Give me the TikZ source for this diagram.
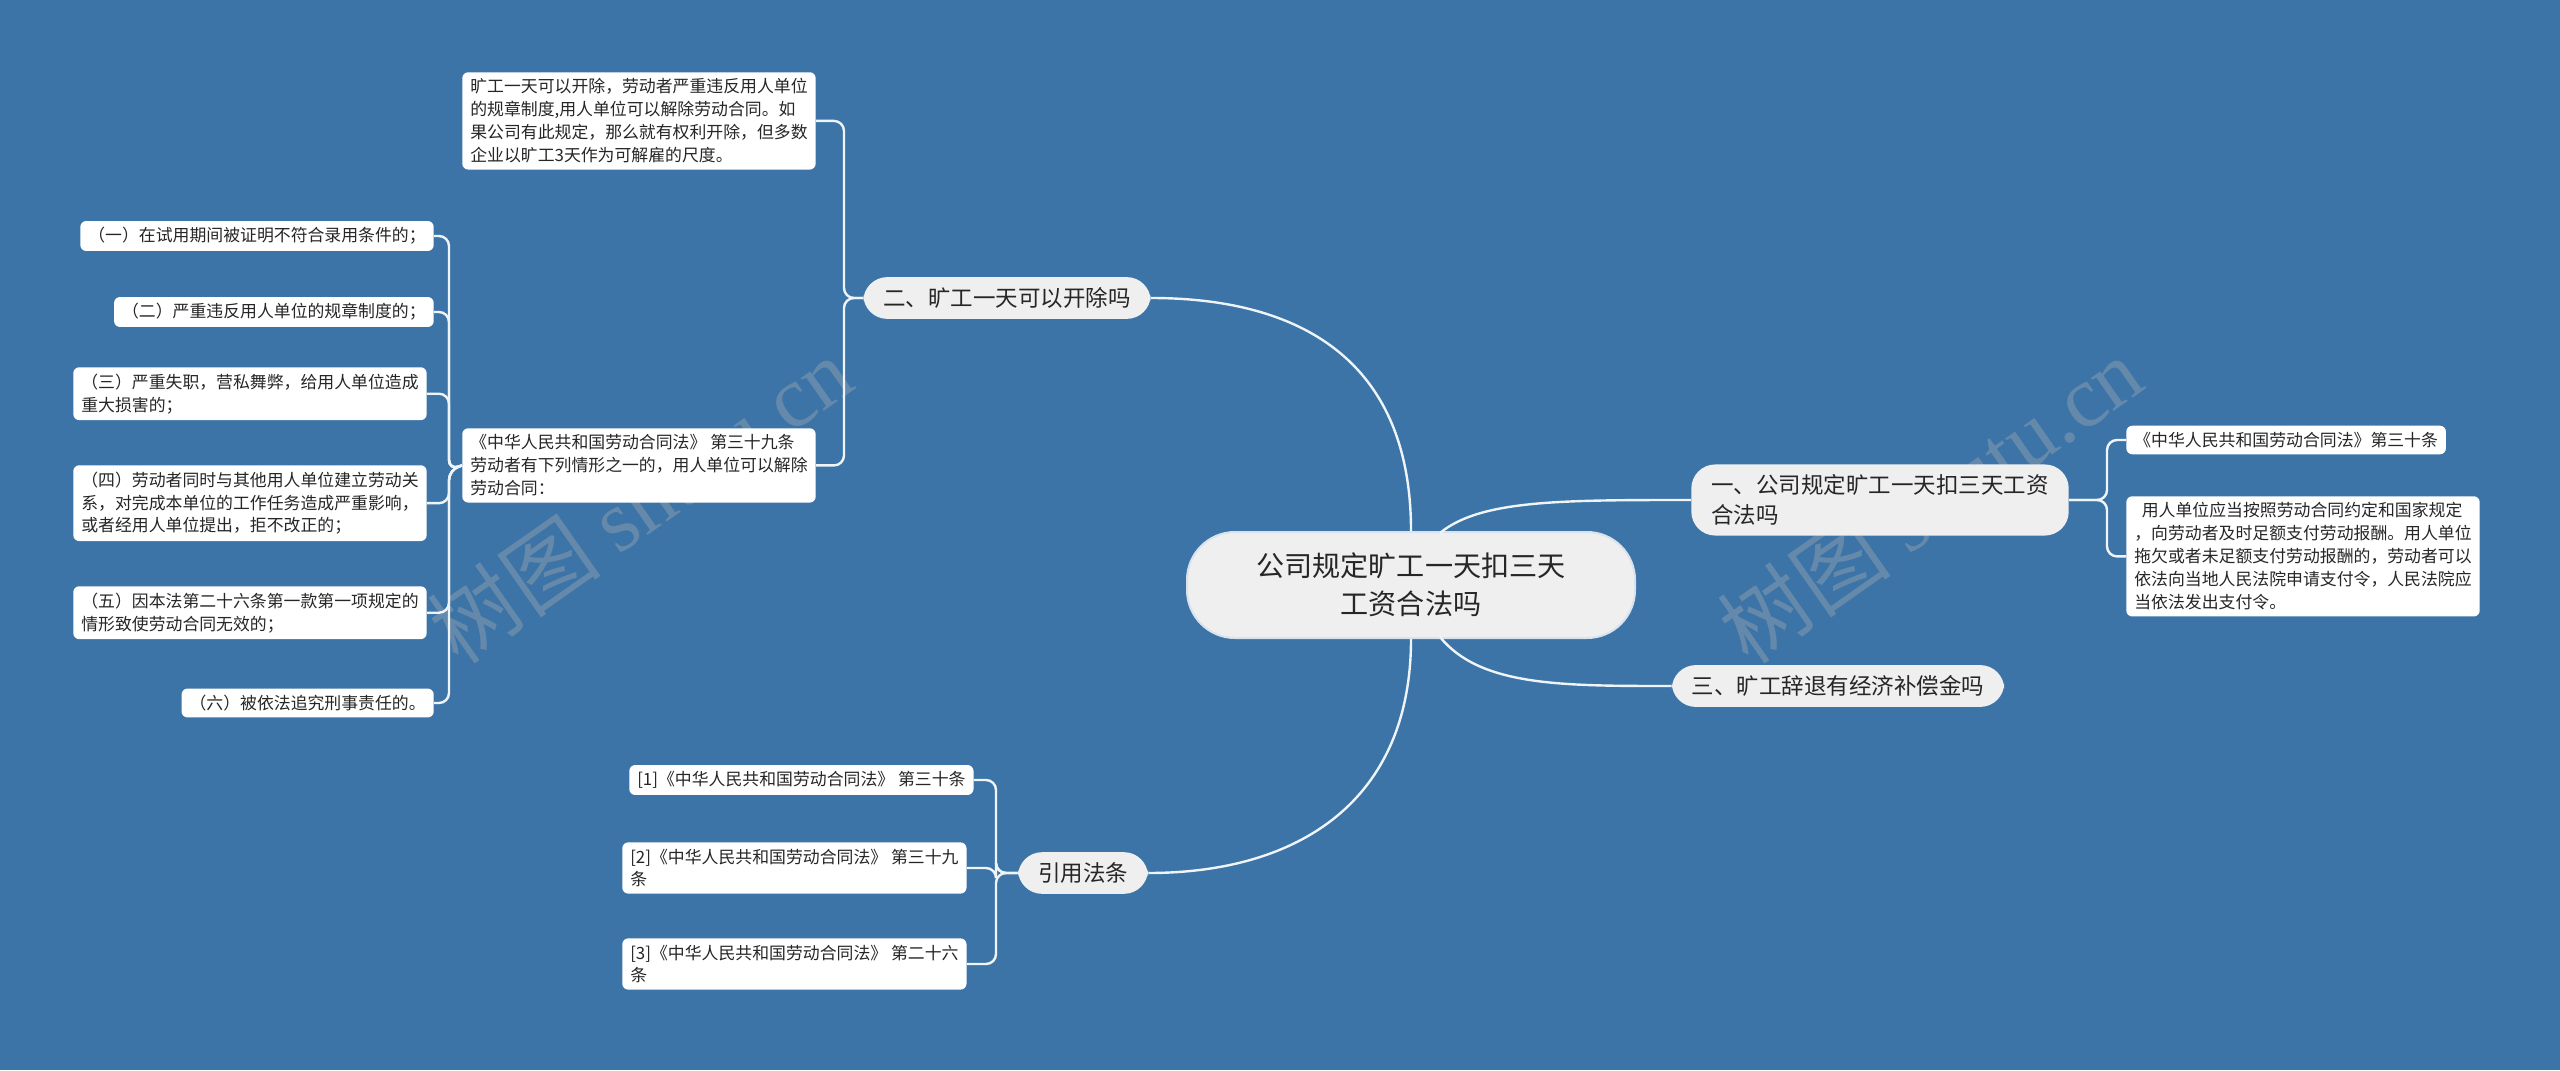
\documentclass[tikz,border=0pt]{standalone}
\usepackage{fontspec}
\setmainfont{Noto Sans CJK SC}
\newfontfamily\wmfont{Liberation Serif}
\usetikzlibrary{positioning}
\definecolor{bg}{HTML}{3C74A7}
\definecolor{br}{HTML}{EFEFEF}
\begin{document}
\begin{tikzpicture}[x=0.25mm,y=-0.25mm,
  leaf/.style={fill=white,rounded corners=1.5mm,inner xsep=2mm,inner ysep=1.6mm,align=left,font=\fontsize{12}{16.3}\selectfont,text=black!85},
  branch/.style={fill=br,rounded corners=6mm,inner xsep=5mm,inner ysep=2.6mm,align=left,font=\fontsize{16}{21}\selectfont,text=black!85},
  conn/.style={draw=white!92!bg,line width=0.6mm},
  bk/.style={conn,rounded corners=2.5mm},
  wm/.style={rotate=35,text=gray!60,opacity=0.35,font=\fontsize{62}{62}\selectfont}]
\fill[bg] (0,0) rectangle (2560,1070);
\useasboundingbox (0,0) rectangle (2560,1070);
\node[wm] (wm1) at (640,500) {树图 {\wmfont shutu.cn}};
\node[wm] (wm2) at (1930,500) {树图 {\wmfont shutu.cn}};

\node[fill=br,draw=white!80!bg,line width=0.5mm,rounded corners=12mm,minimum width=112mm,minimum height=26.5mm,align=center,font=\fontsize{20}{27}\selectfont,text=black!85] (root) at (1411,585) {公司规定旷工一天扣三天\\工资合法吗};

\node[branch] (b2) at (1007,298) {二、旷工一天可以开除吗};
\node[branch] (b1) at (1880,500) {一、公司规定旷工一天扣三天工资\\合法吗};
\node[branch] (b3) at (1838,686) {三、旷工辞退有经济补偿金吗};
\node[branch] (b4) at (1083,873) {引用法条};

\draw[conn] (root.north) .. controls (1411,360) and (1300,298) .. (b2.east);
\draw[conn] (1440,533) .. controls (1480,500) and (1560,500) .. (b1.west);
\draw[conn] (1440,637) .. controls (1480,686) and (1560,686) .. (b3.west);
\draw[conn] (root.south) .. controls (1411,800) and (1300,873) .. (b4.east);

\node[leaf,anchor=north west] (l1) at (462,72) {旷工一天可以开除，劳动者严重违反用人单位\\的规章制度,用人单位可以解除劳动合同。如\\果公司有此规定，那么就有权利开除，但多数\\企业以旷工3天作为可解雇的尺度。};
\node[leaf,anchor=north west] (l2) at (462,428) {《中华人民共和国劳动合同法》 第三十九条\\劳动者有下列情形之一的，用人单位可以解除\\劳动合同：};
\draw[bk] (b2.west) -- (844,298) |- (l1.east);
\draw[bk] (b2.west) -- (844,298) |- (l2.east);

\node[leaf,anchor=east] (s1) at (434,236) {（一）在试用期间被证明不符合录用条件的；};
\node[leaf,anchor=east] (s2) at (434,312) {（二）严重违反用人单位的规章制度的；};
\node[leaf,anchor=north west] (s3) at (73,367) {（三）严重失职，营私舞弊，给用人单位造成\\重大损害的；};
\node[leaf,anchor=north west] (s4) at (73,465) {（四）劳动者同时与其他用人单位建立劳动关\\系，对完成本单位的工作任务造成严重影响，\\或者经用人单位提出，拒不改正的；};
\node[leaf,anchor=north west] (s5) at (73,586) {（五）因本法第二十六条第一款第一项规定的\\情形致使劳动合同无效的；};
\node[leaf,anchor=east] (s6) at (434,703) {（六）被依法追究刑事责任的。};
\foreach \s in {s1,s2,s3,s4,s5,s6}
  \draw[bk] (l2.west) -- (449,470) |- (\s.east);

\node[leaf,anchor=west] (r1) at (2126,440) {《中华人民共和国劳动合同法》第三十条};
\node[leaf,anchor=north west] (r2) at (2126,496) {\ \ 用人单位应当按照劳动合同约定和国家规定\\，向劳动者及时足额支付劳动报酬。用人单位\\拖欠或者未足额支付劳动报酬的，劳动者可以\\依法向当地人民法院申请支付令，人民法院应\\当依法发出支付令。};
\draw[bk] (b1.east) -- (2107,500) |- (r1.west);
\draw[bk] (b1.east) -- (2107,500) |- (r2.west);

\node[leaf,anchor=west] (f1) at (629,780) {[1]《中华人民共和国劳动合同法》 第三十条};
\node[leaf,anchor=west] (f2) at (622,868) {[2]《中华人民共和国劳动合同法》 第三十九\\条};
\node[leaf,anchor=west] (f3) at (622,964) {[3]《中华人民共和国劳动合同法》 第二十六\\条};
\foreach \f in {f1,f2,f3}
  \draw[bk] (b4.west) -- (996,873) |- (\f.east);
\end{tikzpicture}
\end{document}
